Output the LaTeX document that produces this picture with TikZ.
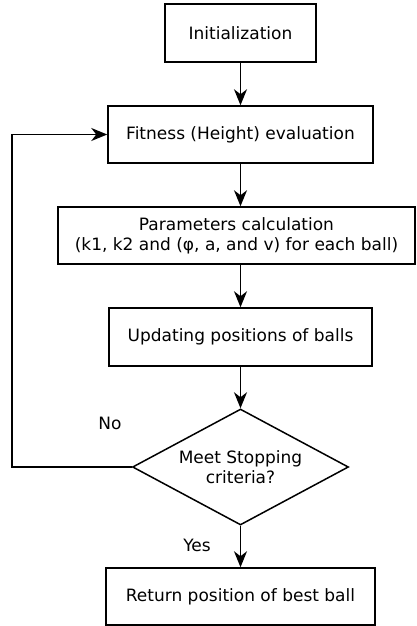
\documentclass[tikz,border=0pt]{standalone}
\usepackage{fontspec}
\setmainfont{DejaVu Sans}
\usetikzlibrary{shapes.geometric,arrows.meta}

\tikzset{
    stepbox/.style={draw,line width=1.5pt,inner sep=0pt,align=center},
    choice/.style={draw,line width=1.5pt,diamond,aspect=2,inner sep=0pt,align=center,
        minimum width=216pt,minimum height=116pt},
    flowline/.style={draw,line width=1.5pt,-{Stealth[length=16pt,width=13pt,inset=5pt]}},
}

\begin{document}
\begin{tikzpicture}[x=1pt,y=-1pt,font=\fontsize{17}{20}\selectfont]
    \useasboundingbox (0,0) rectangle (416,626);
    \node[stepbox,minimum width=151pt,minimum height=58pt] (init) at (240.5,33) {Initialization};
    \node[stepbox,minimum width=265pt,minimum height=57pt] (fit) at (240.5,134.5) {Fitness (Height) evaluation};
    \node[stepbox,minimum width=357pt,minimum height=57pt] (param) at (236.5,235.5) {Parameters calculation\\(k1, k2 and (φ, a, and v) for each ball)};
    \node[stepbox,minimum width=263pt,minimum height=58pt] (upd) at (240.5,337) {Updating positions of balls};
    \node[choice] (dec) at (240.5,467) {Meet Stopping\\criteria?};
    \node[stepbox,minimum width=269pt,minimum height=57pt] (ret) at (240.5,596.5) {Return position of best ball};
    \coordinate (back) at (12,467);
    \node (no) at (110,423) {No};
    \node (yes) at (197,545) {Yes};
    \draw[flowline] (init) -- (fit);
    \draw[flowline] (fit) -- (fit|-param.north);
    \draw[flowline] (upd|-param.south) -- (upd);
    \draw[flowline] (upd) -- (dec);
    \draw[flowline] (dec) -- (ret);
    \draw[flowline] (dec.west) -- (back) |- (fit.west);
\end{tikzpicture}
\end{document}
